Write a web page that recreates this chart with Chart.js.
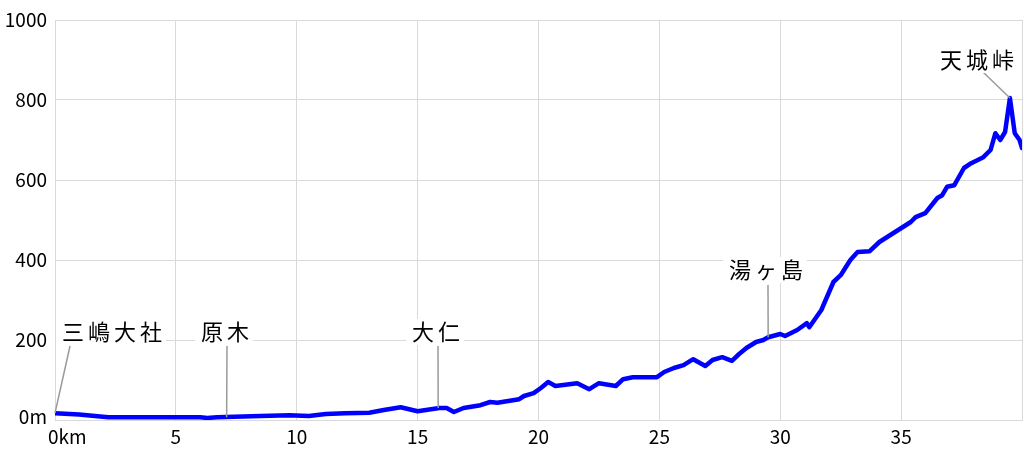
<!DOCTYPE html>
<html>
<head>
<meta charset="utf-8">
<script src="https://cdn.jsdelivr.net/npm/chart.js@4"></script>
<style>
  body { margin: 0; background: #fff; }
  canvas { display: block; }
</style>
</head>
<body>
<canvas id="profile" width="1024" height="455"></canvas>
<script>
// ===== Data =====
const distKm = [0, 1.0, 2.2, 4.0, 6.0, 6.3, 6.7, 8.5, 9.7, 10.5, 11.2, 12.0, 13.0, 13.6, 14.3, 15.0, 15.9, 16.2, 16.5, 16.9,
  17.6, 18.0, 18.3, 19.2, 19.4, 19.8, 20.1, 20.4, 20.7, 21.6, 22.1, 22.5, 23.2, 23.5, 23.9, 24.9, 25.2, 25.6, 26.0, 26.4,
  26.9, 27.2, 27.6, 28.0, 28.3, 28.6, 29.0, 29.3, 29.5, 30.0, 30.2, 30.7, 31.1, 31.2, 31.7, 32.2, 32.5, 32.9, 33.2, 33.7,
  34.1, 35.4, 35.6, 36.0, 36.5, 36.7, 36.9, 37.2, 37.6, 37.9, 38.4, 38.7, 38.9, 39.1, 39.3, 39.5, 39.7, 39.9, 40.0];
const elevM = [17, 14, 7, 7, 7, 5, 7, 10, 12, 10, 15, 17, 18, 25, 32, 22, 30, 30, 20, 30,
  37, 45, 43, 52, 60, 67, 80, 95, 85, 92, 77, 92, 85, 102, 107, 107, 120, 130, 137, 152,
  135, 150, 157, 148, 165, 180, 195, 200, 207, 215, 210, 225, 242, 232, 275, 345, 362, 400, 420, 422,
  445, 495, 507, 517, 555, 562, 583, 587, 630, 642, 657, 675, 717, 700, 720, 805, 717, 700, 680];

const xTicks = [0, 5, 10, 15, 20, 25, 30, 35];
const yTicks = [0, 200, 400, 600, 800, 1000];

const placeNames = ['三嶋大社', '原木', '大仁', '湯ヶ島', '天城峠'];
const placeKm = [0, 7.1, 15.85, 29.5, 39.5];
const placeElev = [17, 7, 30, 207, 805];

// label placement (pixel offsets: text centre, leader start)
const placeStyle = [
  {tx: 112, ty: 332, lx: 70, ly: 346},
  {tx: 225, ty: 332, lx: 227, ly: 346},
  {tx: 436, ty: 332, lx: 438, ly: 346},
  {tx: 766, ty: 270, lx: 768, ly: 285},
  {tx: 977, ty: 60, lx: 983, ly: 72}
];

const points = distKm.map((d, i) => ({x: d, y: elevM[i]}));

// ===== Labels plugin =====
const labelPlugin = {
  id: 'labels',
  afterDraw(chart) {
    const ctx = chart.ctx;
    const xs = chart.scales.x, ys = chart.scales.y;
    ctx.save();
    ctx.fillStyle = '#000';
    ctx.font = '19px "Noto Sans CJK JP", "DejaVu Sans", sans-serif';
    ctx.textBaseline = 'middle';
    // y tick labels
    ctx.textAlign = 'right';
    yTicks.forEach(v => {
      const y = v === 0 ? ys.getPixelForValue(0) - 3 : ys.getPixelForValue(v);
      ctx.fillText(v === 0 ? '0m' : String(v), 47, y);
    });
    // x tick labels
    xTicks.forEach(v => {
      const x = xs.getPixelForValue(v);
      if (v === 0) {
        ctx.textAlign = 'left';
        ctx.fillText('0km', x - 7, 437);
      } else {
        ctx.textAlign = 'center';
        ctx.fillText(String(v), x, 437);
      }
    });

    // place names
    ctx.font = '22px "Noto Sans CJK JP", sans-serif';
    ctx.letterSpacing = '4px';
    placeNames.forEach((name, i) => {
      const s = placeStyle[i];
      const px = xs.getPixelForValue(placeKm[i]);
      const py = ys.getPixelForValue(placeElev[i]);
      ctx.strokeStyle = '#9a9a9a';
      ctx.lineWidth = 1.5;
      ctx.beginPath();
      ctx.moveTo(s.lx, s.ly);
      ctx.lineTo(px, py);
      ctx.stroke();
      const w = ctx.measureText(name).width;
      ctx.fillStyle = '#fff';
      ctx.fillRect(s.tx - w / 2 - 4, s.ty - 13, w + 6, 26);
      ctx.fillStyle = '#000';
      ctx.textAlign = 'left';
      ctx.fillText(name, s.tx - w / 2 + 2, s.ty);
    });
    ctx.restore();
  }
};

// ===== Chart =====
const ctx = document.getElementById('profile').getContext('2d');
new Chart(ctx, {
  type: 'line',
  data: {
    datasets: [{
      data: points,
      borderColor: '#0000ff',
      borderWidth: 4.5,
      borderJoinStyle: 'round',
      borderCapStyle: 'round',
      pointRadius: 0,
      tension: 0,
      fill: false
    }]
  },
  options: {
    responsive: false,
    animation: false,
    layout: {padding: {left: 55, right: 2, top: 20, bottom: 35}},
    plugins: {legend: {display: false}, tooltip: {enabled: false}},
    scales: {
      x: {
        type: 'linear', min: 0, max: 40,
        ticks: {display: false, stepSize: 5},
        grid: {color: '#d9d9d9', drawTicks: false},
        border: {color: '#d9d9d9'}
      },
      y: {
        min: 0, max: 1000,
        ticks: {display: false, stepSize: 200},
        grid: {color: '#d9d9d9', drawTicks: false},
        border: {color: '#d9d9d9'}
      }
    }
  },
  plugins: [labelPlugin]
});
</script>
</body>
</html>
